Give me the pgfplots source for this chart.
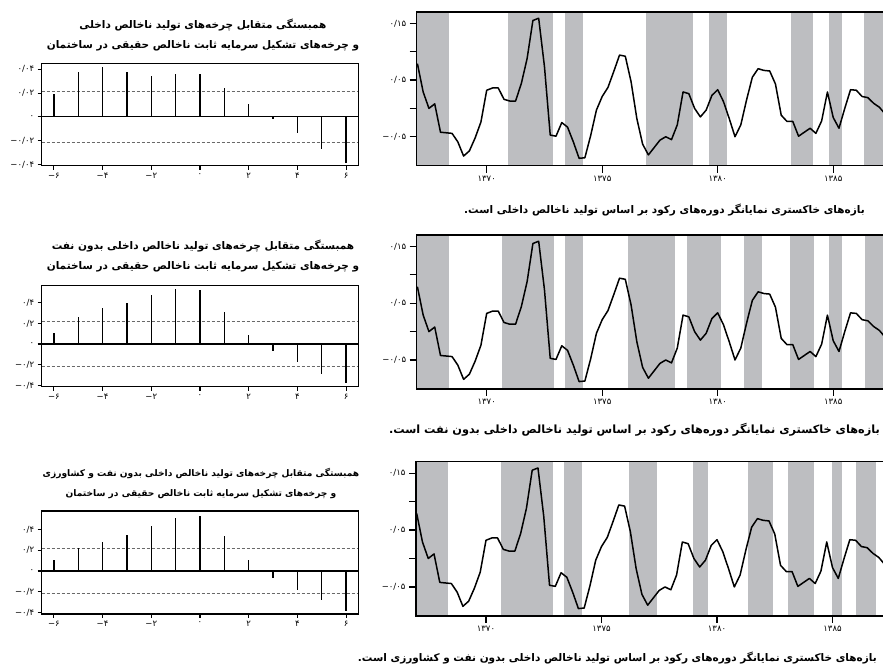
\documentclass[border=0pt]{standalone}
\usepackage{pgfplots}
\pgfplotsset{compat=1.18}
\usepackage{pgfplotstable}
\usepackage{fontspec}
\setmainfont{DejaVu Sans}
\newfontfamily\fa[Script=Arabic]{DejaVu Sans}
\newfontfamily\fanum{DejaVu Sans}
\TeXXeTstate=1
\definecolor{band}{RGB}{189,190,193}
\definecolor{dashc}{RGB}{105,105,105}

\pgfplotstableread{
x y
1367.00 0.079
1367.25 0.029
1367.50 0.000
1367.75 0.008
1368.00 -0.042
1368.25 -0.043
1368.50 -0.044
1368.75 -0.059
1369.00 -0.084
1369.25 -0.075
1369.50 -0.052
1369.75 -0.024
1370.00 0.032
1370.25 0.036
1370.50 0.036
1370.75 0.016
1371.00 0.013
1371.25 0.013
1371.50 0.044
1371.75 0.088
1372.00 0.155
1372.25 0.159
1372.50 0.074
1372.75 -0.047
1373.00 -0.049
1373.25 -0.025
1373.50 -0.033
1373.75 -0.059
1374.00 -0.088
1374.25 -0.087
1374.50 -0.048
1374.75 -0.003
1375.00 0.021
1375.25 0.037
1375.50 0.065
1375.75 0.094
1376.00 0.092
1376.25 0.047
1376.50 -0.018
1376.75 -0.063
1377.00 -0.082
1377.25 -0.069
1377.50 -0.056
1377.75 -0.050
1378.00 -0.055
1378.25 -0.029
1378.50 0.029
1378.75 0.026
1379.00 0.000
1379.25 -0.015
1379.50 -0.003
1379.75 0.023
1380.00 0.033
1380.25 0.012
1380.50 -0.018
1380.75 -0.050
1381.00 -0.029
1381.25 0.015
1381.50 0.055
1381.75 0.070
1382.00 0.067
1382.25 0.066
1382.50 0.043
1382.75 -0.012
1383.00 -0.023
1383.25 -0.023
1383.50 -0.049
1383.75 -0.042
1384.00 -0.035
1384.25 -0.044
1384.50 -0.022
1384.75 0.029
1385.00 -0.016
1385.25 -0.035
1385.50 0.000
1385.75 0.033
1386.00 0.032
1386.25 0.021
1386.50 0.019
1386.75 0.009
1387.00 0.002
1387.25 -0.010
}\cyc

\pgfplotstableread{
lag r
-6 0.194
-5 0.375
-4 0.422
-3 0.381
-2 0.344
-1 0.364
0 0.356
1 0.244
2 0.106
3 -0.022
4 -0.139
5 -0.267
6 -0.389
}\ccfA

\pgfplotstableread{
lag r
-6 0.103
-5 0.258
-4 0.348
-3 0.397
-2 0.474
-1 0.532
0 0.519
1 0.310
2 0.087
3 -0.071
4 -0.171
5 -0.290
6 -0.381
}\ccfB

\pgfplotstableread{
lag r
-6 0.109
-5 0.224
-4 0.278
-3 0.342
-2 0.429
-1 0.512
0 0.525
1 0.333
2 0.102
3 -0.064
4 -0.186
5 -0.282
6 -0.384
}\ccfC

\newcommand{\band}[2]{\addplot[fill=band,draw=none,forget plot] coordinates {(#1,-1) (#1,1) (#2,1) (#2,-1)};}

\pgfplotsset{
  common/.style={
    scale only axis, anchor=south west, axis on top,
    axis line style={line width=1.1pt},
    tick align=outside,
    tick style={line width=1.1pt, black},
    xtick pos=left, ytick pos=left,
    ticklabel style={font=\fanum\fontsize{8.5}{9}\selectfont},
  },
  lstyle/.style={common,
    width=316.6pt, xmin=-6.5, xmax=6.5,
    xtick={-6,-4,-2,0,2,4,6},
    xticklabels={{−۶},{−۴},{−۲},{۰},{۲},{۴},{۶}},
    ytick={-0.4,-0.2,0,0.2,0.4},
    major tick length=4pt,
  },
  rstyle/.style={common,
    width=485.8pt, height=153.7pt, xmin=1366.97, xmax=1388,
    ymin=-0.101, ymax=0.17,
    xtick={1370,1375,1380,1385},
    xticklabels={{۱۳۷۰},{۱۳۷۵},{۱۳۸۰},{۱۳۸۵}},
    ytick={-0.05,0,0.05,0.10,0.15},
    yticklabels={{−۰/۰۵},{},{۰/۰۵},{},{۰/۱۵}},
    major tick length=7pt,
  },
}

\newcommand{\ccfplot}[1]{%
  \addplot[black, line width=1.2pt] coordinates {(-6.5,0) (6.5,0)};
  \addplot[dashc, line width=1pt, dash pattern=on 3pt off 2pt] coordinates {(-6.5,0.216) (6.5,0.216)};
  \addplot[dashc, line width=1pt, dash pattern=on 3pt off 2pt] coordinates {(-6.5,-0.216) (6.5,-0.216)};
  \addplot[ycomb, black, line width=1.4pt, mark=none] table[x=lag,y=r] {#1};
}

\begin{document}
\begin{tikzpicture}
% ---------- left panels ----------
\begin{axis}[lstyle, at={(41.7pt,503.3pt)}, height=102.4pt, ymin=-0.41, ymax=0.45,
  yticklabels={{−۰/۰۴},{−۰/۰۲},{۰},{۰/۰۲},{۰/۰۴}}]
\ccfplot{\ccfA}
\end{axis}
\begin{axis}[lstyle, at={(41.7pt,282.3pt)}, height=101pt, ymin=-0.413, ymax=0.565,
  yticklabels={{−۰/۴},{−۰/۲},{۰},{۰/۲},{۰/۴}}]
\ccfplot{\ccfB}
\end{axis}
\begin{axis}[lstyle, at={(41.7pt,55pt)}, height=103pt, ymin=-0.413, ymax=0.576,
  yticklabels={{−۰/۴},{−۰/۲},{۰},{۰/۲},{۰/۴}}]
\ccfplot{\ccfC}
\end{axis}

% ---------- right panels ----------
\begin{axis}[rstyle, at={(416.7pt,503.3pt)}]
\band{1366.97}{1368.37}\band{1370.92}{1372.87}\band{1373.39}{1374.17}
\band{1376.90}{1378.93}\band{1379.62}{1380.40}\band{1383.17}{1384.13}
\band{1384.82}{1385.38}\band{1386.33}{1389}
\addplot[black, line width=1.5pt, line join=round] table[x=x,y=y] {\cyc};
\end{axis}
\begin{axis}[rstyle, at={(416.7pt,280pt)}, height=154pt]
\band{1366.97}{1368.37}\band{1370.66}{1372.91}\band{1373.39}{1374.17}
\band{1376.12}{1378.15}\band{1378.67}{1380.14}\band{1381.13}{1381.91}
\band{1383.13}{1384.16}\band{1384.82}{1385.38}\band{1386.38}{1389}
\addplot[black, line width=1.5pt, line join=round] table[x=x,y=y] {\cyc};
\end{axis}
\begin{axis}[rstyle, at={(416pt,53pt)}, height=154.3pt]
\band{1366.97}{1368.37}\band{1370.66}{1372.92}\band{1373.39}{1374.17}
\band{1376.21}{1377.42}\band{1378.94}{1379.59}\band{1381.36}{1382.44}
\band{1383.09}{1384.18}\band{1384.96}{1385.39}\band{1386.0}{1386.9}
\addplot[black, line width=1.5pt, line join=round] table[x=x,y=y] {\cyc};
\end{axis}

% ---------- titles ----------
\tikzset{ttl/.style={align=center, inner sep=0pt, font=\fa\bfseries\fontsize{10.5}{20}\selectfont}}
\node[ttl] at (203pt,634pt) {\beginR همبستگی متقابل چرخه‌های تولید ناخالص داخلی\endR\\\beginR و چرخه‌های تشکیل سرمایه ثابت ناخالص حقیقی در ساختمان\endR};
\node[ttl] at (203pt,413pt) {\beginR همبستگی متقابل چرخه‌های تولید ناخالص داخلی بدون نفت\endR\\\beginR و چرخه‌های تشکیل سرمایه ثابت ناخالص حقیقی در ساختمان\endR};
\node[ttl, font=\fa\bfseries\fontsize{9.1}{20}\selectfont] at (201pt,186pt) {\beginR همبستگی متقابل چرخه‌های تولید ناخالص داخلی بدون نفت و کشاورزی\endR\\\beginR و چرخه‌های تشکیل سرمایه ثابت ناخالص حقیقی در ساختمان\endR};

\node[ttl, anchor=east] at (865pt,459pt) {\beginR بازه‌های خاکستری نمایانگر دوره‌های رکود بر اساس تولید ناخالص داخلی است.\endR};
\node[ttl, anchor=east, font=\fa\bfseries\fontsize{11.3}{20}\selectfont] at (880pt,239pt) {\beginR بازه‌های خاکستری نمایانگر دوره‌های رکود بر اساس تولید ناخالص داخلی بدون نفت است.\endR};
\node[ttl, anchor=east] at (877pt,11pt) {\beginR بازه‌های خاکستری نمایانگر دوره‌های رکود بر اساس تولید ناخالص داخلی بدون نفت و کشاورزی است.\endR};

\pgfresetboundingbox
\path[use as bounding box] (0pt,0pt) rectangle (883pt,669pt);
\end{tikzpicture}
\end{document}
